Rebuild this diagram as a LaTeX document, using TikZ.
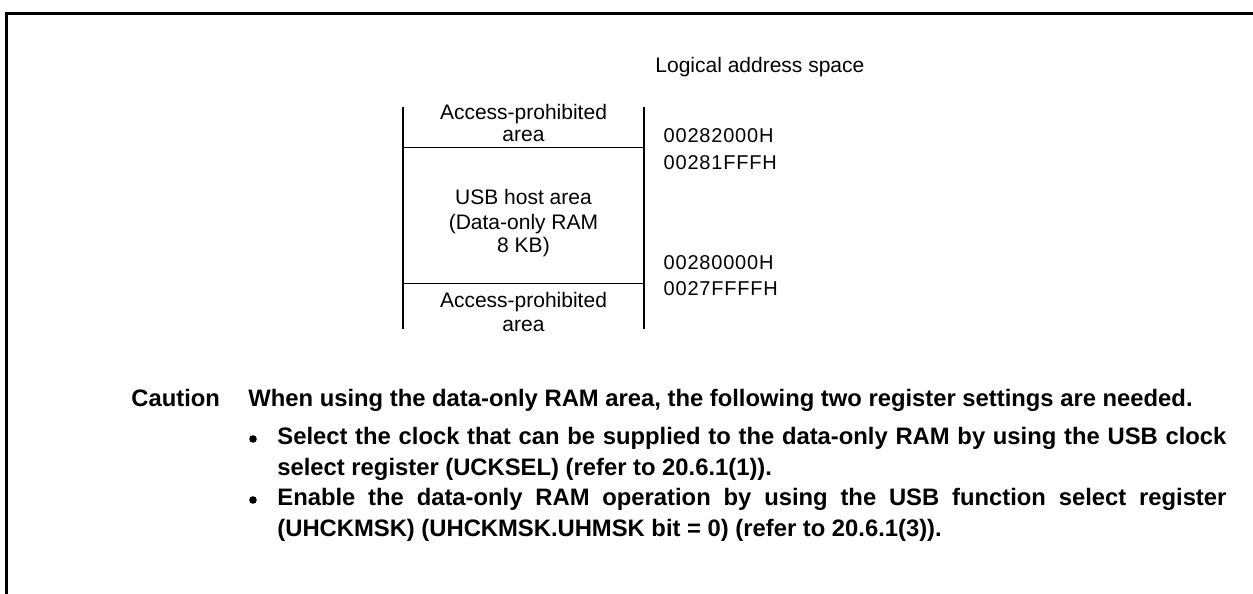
\documentclass[tikz,border=0pt]{standalone}
\usepackage{fontspec}
\setmainfont{Liberation Sans}
\begin{document}
\begin{tikzpicture}[x=0.5pt,y=-0.5pt,
  lbl/.style={inner sep=0pt, anchor=base, font=\fontsize{10.5}{12}\selectfont},
  addr/.style={inner sep=0pt, anchor=base west, font=\fontsize{10}{12}\selectfont\addfontfeature{LetterSpace=4}},
  cau/.style={inner sep=0pt, anchor=base west, font=\fontsize{11.9}{14}\selectfont\bfseries},
  dot/.style={circle, fill=black, inner sep=0pt, minimum size=3.8pt},
  frameline/.style={line width=1.5pt},
  wall/.style={line width=1pt},
  divider/.style={line width=0.5pt}]
\useasboundingbox (0,0) rectangle (1253,594);
% outer frame (open at right and bottom)
\coordinate (fbl) at (6.5,594);
\coordinate (ftl) at (6.5,13.5);
\coordinate (ftr) at (1253,13.5);
\draw[frameline] (fbl) -- (ftl) -- (ftr);
% memory map
\coordinate (lt) at (402.7,106.7);
\coordinate (lb) at (402.7,329);
\coordinate (rt) at (644.3,106.7);
\coordinate (rb) at (644.3,329);
\coordinate (d1l) at (402.7,147.7);
\coordinate (d1r) at (644.3,147.7);
\coordinate (d2l) at (402.7,283.3);
\coordinate (d2r) at (644.3,283.3);
\draw[wall] (lt) -- (lb);
\draw[wall] (rt) -- (rb);
\draw[divider] (d1l) -- (d1r);
\draw[divider] (d2l) -- (d2r);
\node[addr, font=\fontsize{10.5}{12}\selectfont] (title) at (655,72.3) {Logical address space};
\node[lbl] (a1) at (523.5,119) {Access-prohibited};
\node[lbl] (a1b) at (523.5,141.7) {area};
\node[lbl] (u1) at (523.5,204) {USB host area};
\node[lbl] (u2) at (523.5,229) {(Data-only RAM};
\node[lbl] (u3) at (523.5,252) {8 KB)};
\node[lbl] (a2) at (523.5,307) {Access-prohibited};
\node[lbl] (a2b) at (523.5,331.7) {area};
\node[addr] (ad1) at (663.3,142) {00282000H};
\node[addr] (ad2) at (663.3,169) {00281FFFH};
\node[addr] (ad3) at (663.3,269) {00280000H};
\node[addr] (ad4) at (663.3,295.5) {0027FFFFH};
% caution text
\node[cau] (cap) at (131,406) {Caution};
\node[cau] (c0) at (248,406) {When using the data-only RAM area, the following two register settings are needed.};
\node[dot] (b1) at (253,439) {};
\node[cau] (c1) at (277,444) {\makebox[474.5pt][s]{Select the clock that can be supplied to the data-only RAM by using the USB clock}};
\node[cau] (c2) at (277,475) {select register (UCKSEL) (refer to 20.6.1(1)).};
\node[dot] (b2) at (253,500) {};
\node[cau] (c3) at (277,505) {\makebox[474.5pt][s]{Enable the data-only RAM operation by using the USB function select register}};
\node[cau] (c4) at (277,536) {(UHCKMSK) (UHCKMSK.UHMSK bit = 0) (refer to 20.6.1(3)).};
\end{tikzpicture}
\end{document}
